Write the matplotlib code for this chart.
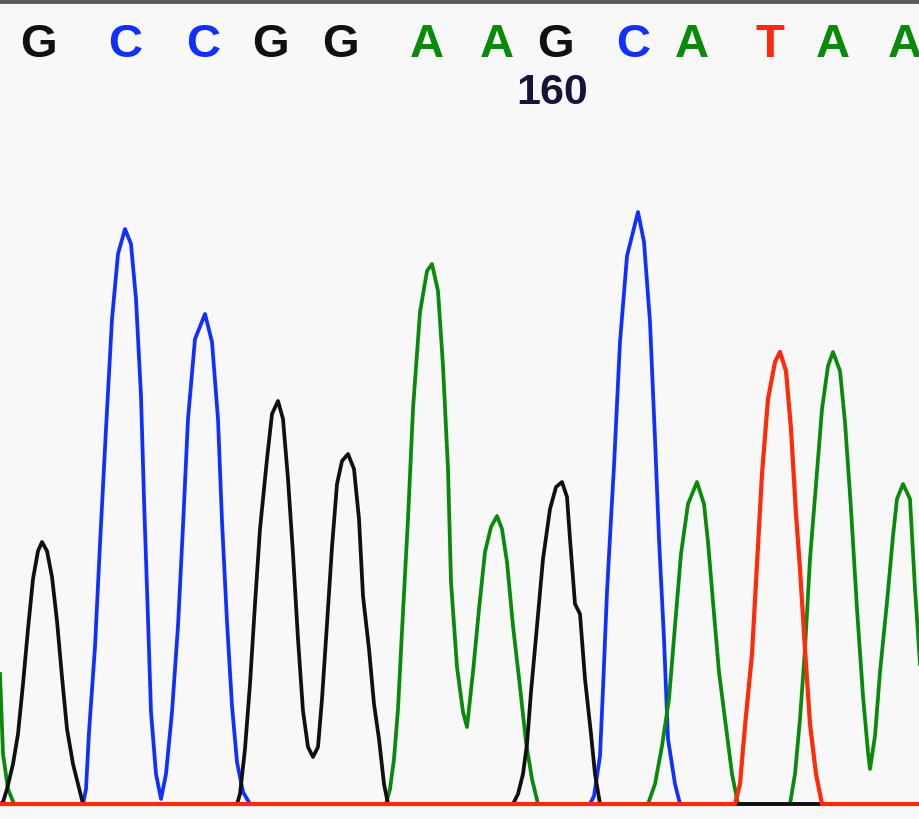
import matplotlib.pyplot as plt

# called bases along the top
bases = ['G', 'C', 'C', 'G', 'G', 'A', 'A', 'G', 'C', 'A', 'T', 'A', 'A']
base_pos = [38, 125, 203, 270, 340, 427, 497, 555, 633, 692, 770, 833, 905]
pos_label = '160'
pos_label_x = 552

# trace signal (scan position, intensity)
g_x = [0, 3, 7, 13, 18, 23, 28, 33, 38, 42, 47, 52, 57, 62, 67, 73, 78, 83,
       237, 240, 245, 250, 255, 260, 267, 272, 278, 283, 288, 293, 298, 303, 308, 313, 318, 322,
       327, 332, 337, 342, 348, 354, 359, 363, 369, 374, 379, 384, 388,
       513, 518, 523, 527, 531, 537, 543, 550, 556, 562, 567, 570, 575, 580, 585, 591, 595, 600, 920]
g_y = [0, 2, 15, 40, 70, 120, 175, 225, 253, 262, 253, 227, 183, 127, 75, 40, 20, 0,
       0, 10, 55, 120, 200, 275, 345, 390, 403, 385, 325, 250, 165, 93, 57, 47, 57, 105,
       180, 257, 320, 343, 350, 335, 285, 208, 155, 100, 65, 20, 0,
       0, 10, 30, 60, 112, 178, 245, 295, 317, 322, 307, 265, 200, 190, 125, 70, 30, 0, 0]

c_x = [0, 83, 86, 89, 95, 100, 106, 112, 118, 125, 131, 136, 141, 144, 148, 151, 156, 161, 166, 172,
       178, 183, 188, 195, 205, 212, 218, 222, 227, 232, 237, 243, 250,
       590, 594, 600, 603, 607, 611, 614, 620, 627, 633, 638, 644, 650, 655, 659, 664, 668, 675, 680, 920]
c_y = [0, 0, 15, 72, 157, 260, 375, 485, 550, 575, 560, 505, 408, 305, 185, 92, 30, 5, 30, 92,
       178, 278, 385, 465, 490, 462, 385, 283, 182, 98, 42, 12, 0,
       0, 8, 48, 115, 212, 285, 338, 462, 548, 572, 592, 562, 482, 365, 265, 165, 65, 20, 0, 0]

a_x = [0, 3, 8, 14, 386, 390, 394, 398, 402, 408, 413, 420, 427, 432, 438, 443, 448, 451, 457, 463,
       467, 473, 479, 485, 491, 497, 502, 507, 513, 520, 526, 532, 538,
       648, 655, 662, 669, 675, 681, 688, 697, 704, 708, 713, 719, 726, 732, 738,
       790, 795, 800, 805, 810, 815, 822, 828, 833, 840, 845, 851, 857, 863, 868, 870,
       875, 880, 887, 893, 897, 903, 910, 915, 920]
a_y = [130, 50, 15, 0, 0, 15, 45, 95, 173, 285, 395, 492, 533, 540, 513, 438, 335, 222, 137, 92,
       77, 132, 195, 252, 277, 288, 275, 242, 178, 117, 62, 25, 0,
       0, 20, 58, 105, 178, 250, 300, 322, 300, 262, 202, 132, 77, 30, 0,
       0, 30, 85, 155, 245, 307, 395, 438, 452, 433, 382, 295, 195, 108, 52, 35,
       68, 132, 202, 268, 305, 320, 305, 215, 140]

t_x = [0, 735, 740, 745, 752, 757, 762, 768, 775, 780, 786, 791, 796, 800, 805, 810, 816, 822, 920]
t_y = [0, 0, 20, 78, 150, 240, 330, 405, 442, 452, 433, 375, 290, 235, 155, 80, 30, 0, 0]

colors = {'A': '#0a8a0a', 'C': '#1030ff', 'G': '#101010', 'T': '#ff2a0a'}

fig = plt.figure(figsize=(9.2, 8.2), dpi=100)
fig.patch.set_facecolor('#f8f8f8')
ax = fig.add_axes([0, 0, 1, 1])
ax.set_facecolor('#f8f8f8')

lw = 2.7
ax.plot(c_x, c_y, color=colors['C'], lw=lw, zorder=2)
ax.plot(a_x, a_y, color=colors['A'], lw=lw, zorder=3)
ax.plot(g_x, g_y, color=colors['G'], lw=lw, zorder=4)
ax.plot(t_x, t_y, color=colors['T'], lw=lw + 0.3, zorder=5)

for b, x in zip(bases, base_pos):
    ax.text(x, 760, b, color=colors[b], fontsize=34, fontweight='bold',
            family='Liberation Sans', ha='center', va='center', clip_on=True)
ax.text(pos_label_x, 712, pos_label, color='#15153a', fontsize=31, fontweight='bold',
        family='Liberation Sans', ha='center', va='center')

# top frame line
ax.axhline(803, color='#5a5a5a', lw=3.5, zorder=6)

ax.set_xlim(0, 920)
ax.set_ylim(-15, 805)
ax.axis('off')

fig.savefig('out.png', dpi=100, facecolor=fig.get_facecolor())
